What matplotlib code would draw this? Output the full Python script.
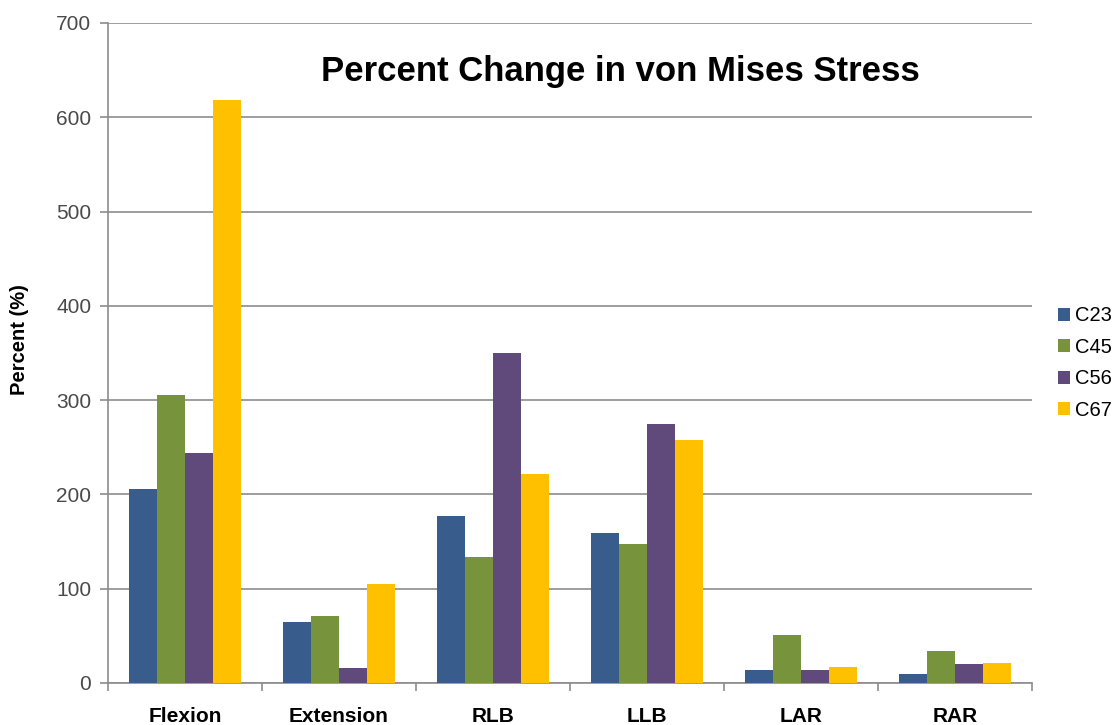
import numpy as np
import matplotlib
matplotlib.use("Agg")
import matplotlib.pyplot as plt
from matplotlib.patches import Patch

plt.rcParams['font.family'] = ['Liberation Sans', 'DejaVu Sans']

categories = ["Flexion", "Extension", "RLB", "LLB", "LAR", "RAR"]
series_names = ["C23", "C45", "C56", "C67"]
c23 = [205.5, 64.2, 177.6, 159.5, 14.2, 10.0]
c45 = [305.8, 71.2, 133.3, 147.1, 50.4, 33.7]
c56 = [243.8, 16.0, 349.5, 274.6, 14.2, 19.9]
c67 = [618.8, 104.6, 221.8, 258.0, 17.4, 21.3]
yticks = [0, 100, 200, 300, 400, 500, 600, 700]

colors = ["#385D8C", "#77933C", "#604A7B", "#FFC000"]
grid_col = "#8C8C8C"

fig = plt.figure(figsize=(11.2, 7.25), dpi=100)
ax = fig.add_axes([108 / 1120, 1 - 683 / 725, 924 / 1120, 660 / 725])

x = np.arange(len(categories))
group = 0.73
bw = group / len(series_names)
for i, (vals, col) in enumerate(zip([c23, c45, c56, c67], colors)):
    ax.bar(x - group / 2 + bw * (i + 0.5), vals, width=bw, color=col,
           edgecolor="none", zorder=3, label=series_names[i])

ax.set_xlim(-0.5, len(categories) - 0.5)
ax.set_ylim(0, 700)
ax.set_yticks(yticks)
ax.set_yticklabels([str(v) for v in yticks], fontsize=15, color="#4A4A4A")
ax.yaxis.grid(True, color=grid_col, linewidth=1.2, zorder=0)
ax.set_axisbelow(True)

# category labels sit between the boundary ticks
ax.set_xticks(np.arange(len(categories) + 1) - 0.5)
ax.set_xticklabels([])
ax.set_xticks(x, minor=True)
ax.set_xticklabels(categories, minor=True, fontsize=15, fontweight="bold")
ax.tick_params(axis="x", which="minor", length=0, pad=24)
for lbl in ax.get_xticklabels(minor=True):
    lbl.set_verticalalignment("center")
ax.tick_params(axis="x", which="major", length=6, color=grid_col, width=1.2)
ax.tick_params(axis="y", length=6, color=grid_col, width=1.2, pad=6)

for side in ["top", "right"]:
    ax.spines[side].set_visible(False)
for side in ["left", "bottom"]:
    ax.spines[side].set_color(grid_col)
    ax.spines[side].set_linewidth(1.2)

ax.set_ylabel("Percent (%)", fontsize=14.5, fontweight="bold")
ax.yaxis.set_label_coords(-0.0855, 0.52)

fig.text(620 / 1120, 1 - 72 / 725, "Percent Change in von Mises Stress",
         ha="center", va="center", fontsize=25, fontweight="bold")

handles = [Patch(facecolor=c, edgecolor="none") for c in colors]
fig.legend(handles, series_names, loc="center left",
           bbox_to_anchor=(1058 / 1120, 1 - 363 / 725), frameon=False,
           fontsize=14.5, handlelength=0.6, handleheight=0.6,
           handletextpad=0.25, labelspacing=0.62, borderpad=0, borderaxespad=0)

fig.savefig("out.png", dpi=100)
